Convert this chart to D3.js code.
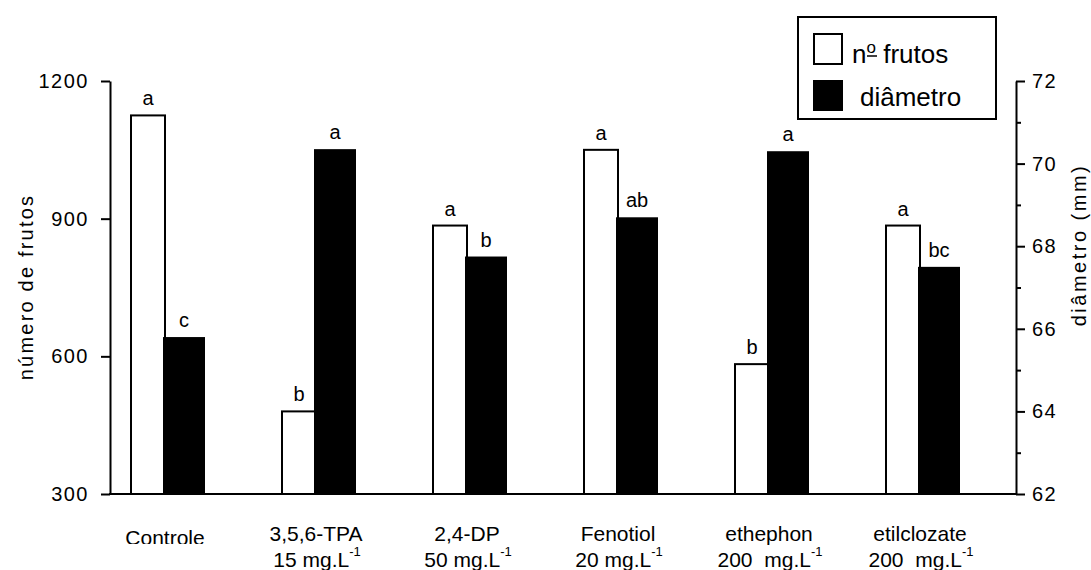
<!DOCTYPE html>
<html>
<head>
<meta charset="utf-8">
<script src="https://cdn.jsdelivr.net/npm/d3@7"></script>
<style>
  body { margin: 0; background: #fff; }
  svg { font-family: "Liberation Sans", Arial, sans-serif; }
</style>
</head>
<body>
<script>
const groups = ["Controle", "3,5,6-TPA", "2,4-DP", "Fenotiol", "ethephon", "etilclozate"]
const doses = ["", "15 mg.L", "50 mg.L", "20 mg.L", "200  mg.L", "200  mg.L"]
const frutos = [1125, 480, 885, 1050, 583, 885]
const diametro = [65.8, 70.35, 67.75, 68.7, 70.3, 67.5]
const letrasFrutos = ["a", "b", "a", "a", "b", "a"]
const letrasDiametro = ["c", "a", "b", "ab", "a", "bc"]
const leftTicks = [300, 600, 900, 1200]
const rightTicks = [62, 63, 64, 65, 66, 67, 68, 69, 70, 71, 72]

const width = 1091
const height = 570
const svg = d3.select("body").append("svg")
    .attr("width", width)
    .attr("height", height)

const x = d3.scaleBand().domain(groups).range([110, 1016]).paddingInner(0)
const yL = d3.scaleLinear().domain([300, 1200]).range([494, 81])
const yR = d3.scaleLinear().domain([62, 72]).range([494, 81])

// white bars (numero de frutos)
svg.selectAll("rect.frutos")
    .data(groups)
    .join("rect")
    .attr("class", "frutos")
    .attr("x", (d) => x(d) + 21)
    .attr("y", (d, i) => yL(frutos[i]))
    .attr("width", 34)
    .attr("height", (d, i) => yL(300) - yL(frutos[i]))
    .attr("fill", "#fff")
    .attr("stroke", "#000")
    .attr("stroke-width", 2)

// black bars (diametro)
svg.selectAll("rect.diam")
    .data(groups)
    .join("rect")
    .attr("class", "diam")
    .attr("x", (d) => x(d) + 53)
    .attr("y", (d, i) => yR(diametro[i]))
    .attr("width", 42)
    .attr("height", (d, i) => yR(62) - yR(diametro[i]))
    .attr("fill", "#000")

// letters above the bars
svg.selectAll("text.lf")
    .data(groups)
    .join("text")
    .attr("class", "lf")
    .attr("x", (d) => x(d) + 38)
    .attr("y", (d, i) => yL(frutos[i]) - 10)
    .attr("text-anchor", "middle")
    .attr("font-size", 20)
    .text((d, i) => letrasFrutos[i])

svg.selectAll("text.ld")
    .data(groups)
    .join("text")
    .attr("class", "ld")
    .attr("x", (d) => x(d) + 74)
    .attr("y", (d, i) => yR(diametro[i]) - 10)
    .attr("text-anchor", "middle")
    .attr("font-size", 20)
    .text((d, i) => letrasDiametro[i])

// axes
const leftAxis = svg.append("g")
    .attr("transform", "translate(110,0)")
    .call(d3.axisLeft(yL).tickValues(leftTicks).tickSize(9).tickSizeOuter(0).tickPadding(12)
        .tickFormat(d3.format("d")))
const rightAxis = svg.append("g")
    .attr("transform", "translate(1016,0)")
    .call(d3.axisRight(yR).tickValues(rightTicks).tickSizeOuter(0).tickPadding(10)
        .tickFormat((d) => d % 2 === 0 ? d : ""))
rightAxis.selectAll(".tick line").attr("x2", (d) => d % 2 === 0 ? 9 : 5)

svg.selectAll(".domain, .tick line").attr("stroke", "#000").attr("stroke-width", 2)
svg.selectAll(".tick text")
    .attr("font-size", 20)
    .attr("letter-spacing", 1.5)
    .attr("fill", "#000")
    .attr("font-family", "Liberation Sans, Arial, sans-serif")

// bottom line
svg.append("line")
    .attr("x1", 109).attr("x2", 1017)
    .attr("y1", yL(300)).attr("y2", yL(300))
    .attr("stroke", "#000").attr("stroke-width", 2)

// axis titles
svg.append("text")
    .attr("transform", "translate(33,287) rotate(-90)")
    .attr("text-anchor", "middle")
    .attr("font-size", 20)
    .attr("letter-spacing", 2.2)
    .text("número de frutos")
svg.append("text")
    .attr("transform", "translate(1086,245) rotate(-90)")
    .attr("text-anchor", "middle")
    .attr("font-size", 20)
    .attr("letter-spacing", 2.5)
    .text("diâmetro (mm)")

// category labels
svg.append("clipPath").attr("id", "clip-ctrl")
    .append("rect").attr("x", -200).attr("y", 0).attr("width", 400).attr("height", 544)

const labels = svg.selectAll("g.cat")
    .data(groups)
    .join("g")
    .attr("class", "cat")
    .attr("transform", (d) => `translate(${x(d) + 55},0)`)

labels.append("text")
    .attr("y", (d, i) => i === 0 ? 545 : 541)
    .attr("clip-path", (d, i) => i === 0 ? "url(#clip-ctrl)" : null)
    .attr("text-anchor", "middle")
    .attr("font-size", 21)
    .text((d) => d)

const doseText = labels.filter((d, i) => doses[i] !== "")
    .append("text")
    .attr("x", 1)
    .attr("y", 567)
    .attr("text-anchor", "middle")
    .attr("font-size", 21)
    .attr("xml:space", "preserve")
doseText.append("tspan").text((d) => doses[groups.indexOf(d)])
doseText.append("tspan")
    .attr("font-size", 13)
    .attr("dy", -11)
    .text("-1")

// legend
const legend = svg.append("g").attr("id", "legend")
legend.append("rect")
    .attr("x", 798).attr("y", 17).attr("width", 198).attr("height", 102)
    .attr("fill", "#fff").attr("stroke", "#000").attr("stroke-width", 2)
legend.append("rect")
    .attr("x", 814).attr("y", 34).attr("width", 28).attr("height", 30)
    .attr("fill", "#fff").attr("stroke", "#000").attr("stroke-width", 2)
legend.append("rect")
    .attr("x", 813).attr("y", 80).attr("width", 30).attr("height", 31)
    .attr("fill", "#000")
const leg1 = legend.append("text")
    .attr("x", 852).attr("y", 63)
    .attr("font-size", 26)
leg1.append("tspan").text("n")
leg1.append("tspan").attr("font-size", 17).attr("dy", -10).text("o")
leg1.append("tspan").attr("dy", 10).text(" frutos")
legend.append("line")
    .attr("x1", 867).attr("x2", 877).attr("y1", 56).attr("y2", 56)
    .attr("stroke", "#000").attr("stroke-width", 1.5)
legend.append("text")
    .attr("x", 860).attr("y", 106)
    .attr("font-size", 26)
    .text("diâmetro")
</script>
</body>
</html>
